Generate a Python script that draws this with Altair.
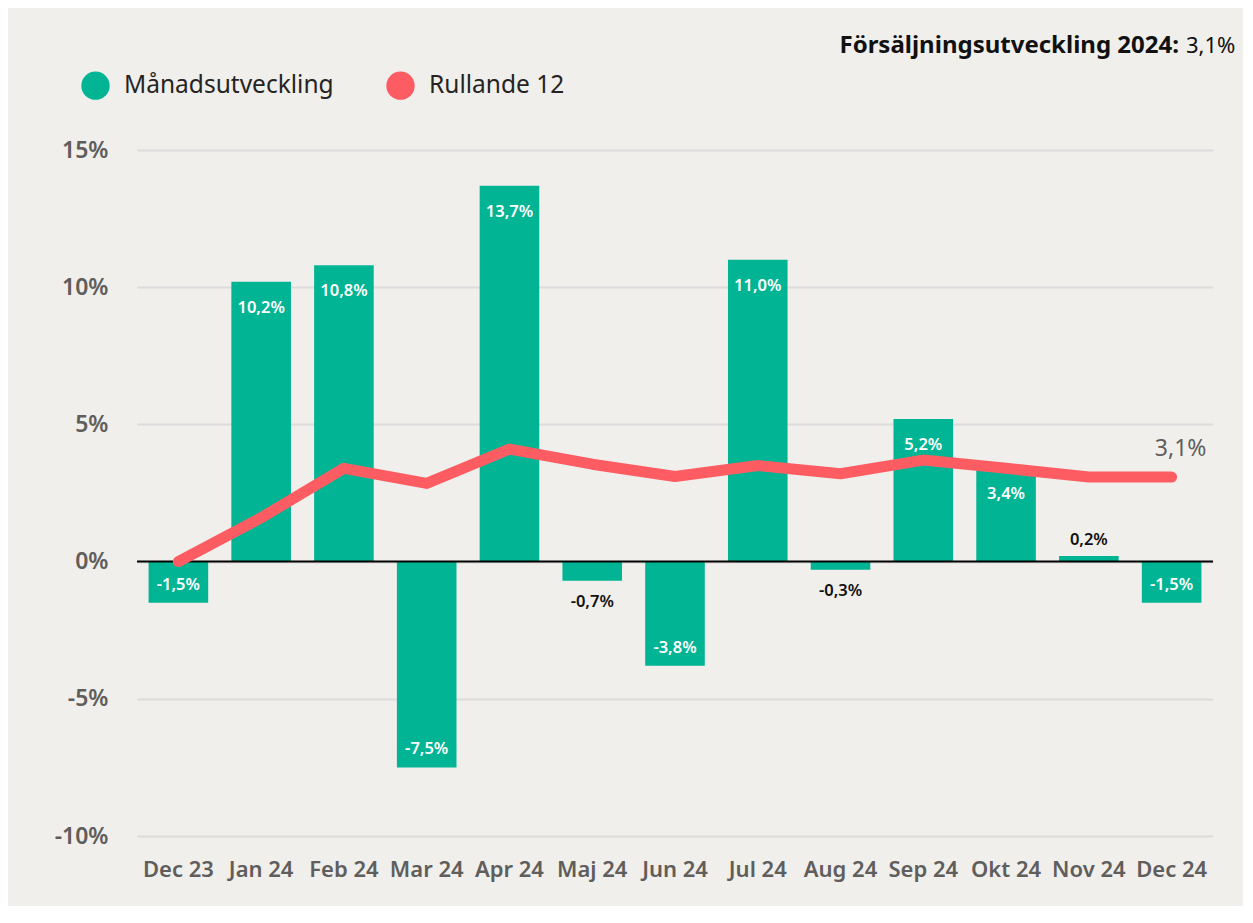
import altair as alt
import pandas as pd

months = ["Dec 23", "Jan 24", "Feb 24", "Mar 24", "Apr 24", "Maj 24", "Jun 24",
          "Jul 24", "Aug 24", "Sep 24", "Okt 24", "Nov 24", "Dec 24"]
monthly = [-1.5, 10.2, 10.8, -7.5, 13.7, -0.7, -3.8, 11.0, -0.3, 5.2, 3.4, 0.2, -1.5]
rolling = [0.0, 1.6, 3.4, 2.85, 4.1, 3.55, 3.1, 3.5, 3.2, 3.7, 3.4, 3.08, 3.08]
series = ["Månadsutveckling", "Rullande 12"]
title_bold = ["Försäljningsutveckling 2024:"]
title_value = ["3,1%"]
end_label = ["3,1%"]

GREEN = "#01B594"
RED = "#FD5C63"
BG = "#F0EFEB"
GREY = "#605E5C"
FONT = "Noto Sans"

df = pd.DataFrame({"month": months, "v": monthly, "r": rolling,
                   "serie": [series[0]] * len(months)})

base = alt.Chart(df).transform_calculate(
    lab="replace(replace(format(datum.v, '.1f'), '.', ','), '\u2212', '-') + '%'"
)

x = alt.X("month:N", sort=months,
          scale=alt.Scale(paddingInner=0.28, paddingOuter=0.14),
          axis=alt.Axis(title=None, labelAngle=0, labelFontSize=22, labelFontWeight=600,
                        labelColor=GREY, labelPadding=23, domain=False, ticks=False,
                        labelOverlap=False, labelFont=FONT, grid=False))
yscale = alt.Scale(domain=[-10, 15], nice=False)
y = alt.Y("v:Q", scale=yscale,
          axis=alt.Axis(values=[-10, -5, 0, 5, 10, 15], labelExpr="datum.value + '%'",
                        title=None, grid=True, gridColor="#DCDCDC", gridWidth=2,
                        domain=False, ticks=False, labelFontSize=23, labelPadding=29,
                        labelFontWeight=600, labelColor=GREY, labelFont=FONT))

bars = base.mark_bar().encode(
    x=x, y=y,
    color=alt.Color("serie:N",
                    scale=alt.Scale(domain=series, range=[GREEN, RED]),
                    legend=alt.Legend(title=None, orient="none", legendX=-56, legendY=-79,
                                      direction="horizontal", symbolType="circle",
                                      symbolSize=804, symbolStrokeWidth=0,
                                      symbolOpacity=1, labelFontSize=24.5,
                                      labelColor="#252423", labelOffset=14,
                                      columnPadding=52, padding=0, labelFont=FONT,
                                      labelLimit=400))
)

zero = alt.Chart(pd.DataFrame({"z": [0]})).mark_rule(color="#000000", strokeWidth=2).encode(
    y=alt.Y("z:Q", scale=yscale)
)

line = base.mark_line(color=RED, strokeWidth=11, strokeCap="round", strokeJoin="round").encode(
    x=alt.X("month:N", sort=months),
    y=alt.Y("r:Q", scale=yscale)
)

lbl_common = dict(fontSize=16.5, fontWeight=600, font=FONT, baseline="middle", align="center")

pos_in = base.transform_filter("datum.v >= 1").mark_text(color="white", dy=26, **lbl_common).encode(
    x=alt.X("month:N", sort=months), y=alt.Y("v:Q", scale=yscale), text="lab:N")
neg_in = base.transform_filter("datum.v <= -1").mark_text(color="white", dy=-18, **lbl_common).encode(
    x=alt.X("month:N", sort=months), y=alt.Y("v:Q", scale=yscale), text="lab:N")
pos_out = base.transform_filter("datum.v >= 0 && datum.v < 1").mark_text(color="#111111", dy=-16, **lbl_common).encode(
    x=alt.X("month:N", sort=months), y=alt.Y("v:Q", scale=yscale), text="lab:N")
neg_out = base.transform_filter("datum.v < 0 && datum.v > -1").mark_text(color="#111111", dy=21, **lbl_common).encode(
    x=alt.X("month:N", sort=months), y=alt.Y("v:Q", scale=yscale), text="lab:N")

endlab = base.transform_window(rn="row_number()").transform_filter(
    f"datum.rn == {len(months)}"
).transform_calculate(el=f"'{end_label[0]}'").mark_text(
    color=GREY, fontSize=23, font=FONT, dy=-28, dx=9, align="center", baseline="middle"
).encode(x=alt.X("month:N", sort=months), y=alt.Y("r:Q", scale=yscale), text="el:N")

tb = alt.Chart(pd.DataFrame({"t": title_bold})).mark_text(
    align="right", baseline="alphabetic", fontSize=24, fontWeight="bold", font=FONT, color="#111111"
).encode(x=alt.value(1042), y=alt.value(-97), text="t:N")
tv = alt.Chart(pd.DataFrame({"t": title_value})).mark_text(
    align="left", baseline="alphabetic", fontSize=22, font=FONT, color="#111111"
).encode(x=alt.value(1049), y=alt.value(-97), text="t:N")

chart = alt.layer(bars, zero, line, pos_in, neg_in, pos_out, neg_out, endlab, tb, tv).properties(
    width=1076, height=686,
    background=BG,
    padding={"left": 129, "top": 142, "right": 30, "bottom": 70},
    autosize=alt.AutoSizeParams(type="none"),
).configure(font=FONT).configure_view(stroke=None)

chart.save("out.html", embed_options={"renderer": "svg", "actions": False})
